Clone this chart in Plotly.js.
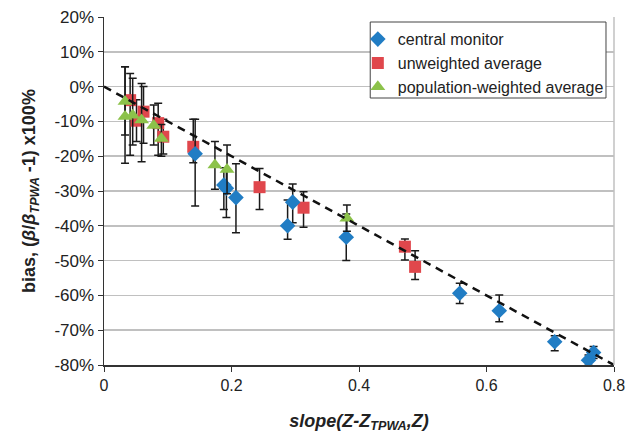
<!DOCTYPE html>
<html>
<head>
<meta charset="utf-8">
<script src="https://cdn.plot.ly/plotly-3.0.1.min.js"></script>
<style>html,body{margin:0;padding:0;background:#fff;}#chart{width:628px;height:435px;}</style>
</head>
<body>
<div id="chart"></div>
<script>
// central monitor
const blueX = [0.143, 0.188, 0.192, 0.207, 0.288, 0.296, 0.380, 0.558, 0.620, 0.707, 0.760, 0.768];
const blueY = [-19.3, -28.3, -29.2, -31.9, -40.0, -33.2, -43.3, -59.4, -64.4, -73.3, -78.6, -76.4];
const bluePlus = [9.9, 5, 5, 9.7, 7.4, 5.2, 6.7, 2.9, 4.5, 1.7, 1.5, 1.7];
const blueMinus = [15, 7, 8.4, 10.1, 3.9, 5.9, 6.7, 2.9, 3.2, 2.6, 1.5, 1.7];
// unweighted average
const redX = [0.041, 0.051, 0.062, 0.085, 0.093, 0.140, 0.244, 0.313, 0.472, 0.488];
const redY = [-3.9, -9.8, -7.2, -10.5, -14.4, -17.3, -28.9, -34.8, -46.0, -51.8];
const redPlus = [7.7, 6, 7.2, 5.7, 5, 7.9, 5.4, 4.6, 2.2, 4.6];
const redMinus = [15.8, 6, 9.1, 9.2, 5, 4.6, 6.4, 5.6, 3.8, 3.6];
// population-weighted average
const greenX = [0.033, 0.033, 0.045, 0.059, 0.078, 0.090, 0.174, 0.193, 0.381];
const greenY = [-4.3, -8.6, -8.2, -9.6, -11.2, -14.9, -22.5, -23.8, -37.8];
const greenPlus = [10, 14.3, 10.6, 10.5, 5.9, 4, 6.7, 7, 3.8];
const greenMinus = [9.6, 13.4, 8.6, 12, 5.6, 5.1, 7, 7, 3.8];
// reference line
const lineX = [0, 0.8];
const lineY = [0, -80];
// ticks
const yTickVals = [20, 10, 0, -10, -20, -30, -40, -50, -60, -70, -80];
const yTickText = ['20%', '10%', '0%', '-10%', '-20%', '-30%', '-40%', '-50%', '-60%', '-70%', '-80%'];
const xTickVals = [0, 0.2, 0.4, 0.6, 0.8];
const xTickText = ['0', '0.2', '0.4', '0.6', '0.8'];

const errStyle = (p, m) => ({type: 'data', symmetric: false, array: p, arrayminus: m,
  color: '#1a1a1a', thickness: 1.5, width: 4});

const traces = [
  {x: redX, y: redY, type: 'scatter', mode: 'markers', name: 'unweighted average', legendrank: 2,
   marker: {symbol: 'square', size: 12, color: '#e0474c'}, error_y: errStyle(redPlus, redMinus)},
  {x: blueX, y: blueY, type: 'scatter', mode: 'markers', name: 'central monitor', legendrank: 1,
   marker: {symbol: 'diamond', size: 12, color: '#217dc4'}, error_y: errStyle(bluePlus, blueMinus)},
  {x: greenX, y: greenY, type: 'scatter', mode: 'markers', name: 'population-weighted average', legendrank: 3,
   marker: {symbol: 'triangle-up', size: 13, color: '#8cc24a'}, error_y: errStyle(greenPlus, greenMinus)},
  {x: lineX, y: lineY, type: 'scatter', mode: 'lines', showlegend: false, hoverinfo: 'skip',
   line: {color: '#111', width: 2.5, dash: '8px,6px'}}
];

const layout = {
  width: 628, height: 435,
  margin: {l: 104, r: 14, t: 17, b: 70},
  paper_bgcolor: '#fff', plot_bgcolor: '#fff',
  font: {family: 'Liberation Sans, Arial, sans-serif', size: 15, color: '#222'},
  showlegend: true,
  legend: {x: 0.4977, y: 0.985, xanchor: 'left', yanchor: 'top', bgcolor: 'rgba(0,0,0,0)',
    borderwidth: 0, font: {size: 16, color: '#222'}},
  xaxis: {range: [0, 0.8], tickvals: xTickVals, ticktext: xTickText, showgrid: false, zeroline: false,
    showline: true, linecolor: '#333', linewidth: 1.5, ticks: 'outside', ticklen: 5, tickcolor: '#333',
    tickfont: {size: 16},
    title: {text: '<b><i>slope(Z-Z<sub>TPWA</sub>,Z)</i></b>', font: {size: 18}, standoff: 21}},
  yaxis: {range: [-80, 20], tickvals: yTickVals, ticktext: yTickText, showgrid: true, gridcolor: '#c0c0c0',
    gridwidth: 1.5, zeroline: false, showline: true, linecolor: '#333', linewidth: 1.5,
    ticks: 'outside', ticklen: 5, tickcolor: '#333', tickfont: {size: 17},
    title: {text: '<b>bias, (<i>β</i>/<i>β</i><sub><i>TPWA</i></sub> -1) x100%</b>', font: {size: 18}, standoff: 14}},
  shapes: [
    {type: 'line', xref: 'paper', yref: 'paper', x0: 1, x1: 1, y0: 0, y1: 1,
     line: {color: '#c0c0c0', width: 1.5}},
    {type: 'rect', xref: 'paper', yref: 'paper', x0: 0.522, x1: 0.9843, y0: 0.7672, y1: 0.9856,
     fillcolor: '#fff', line: {color: '#444', width: 1}, layer: 'above'}
  ]
};

Plotly.newPlot('chart', traces, layout, {displayModeBar: false, staticPlot: true});
</script>
</body>
</html>
